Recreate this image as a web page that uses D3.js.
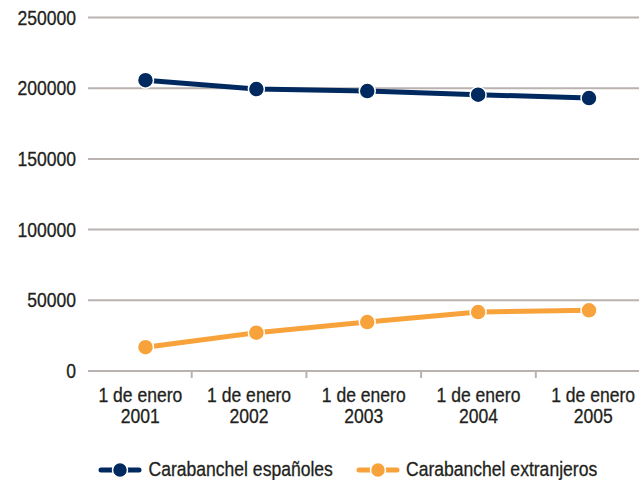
<!DOCTYPE html>
<html><head><meta charset="utf-8">
<script src="https://cdn.jsdelivr.net/npm/d3@7"></script>
<style>body{margin:0;background:#fff}svg{display:block}text{font-family:"Liberation Sans",Arial,sans-serif;fill:#231f20;stroke:#231f20;stroke-width:0.3px}</style>
</head><body><svg id="c" width="639" height="480"></svg>
<script>
const categories = ["1 de enero|2001","1 de enero|2002","1 de enero|2003","1 de enero|2004","1 de enero|2005"];
const espanoles = [205700, 199400, 198000, 195400, 193000];
const extranjeros = [16800, 27100, 34600, 41700, 42900];
const yTicks = [0, 50000, 100000, 150000, 200000, 250000];
const seriesNames = ["Carabanchel españoles", "Carabanchel extranjeros"];
const colors = ["#00295f", "#f8a23b"];

const FS = 19.5, SX = 0.9;
const svg = d3.select("#c");
const x = d3.scaleBand().domain(categories).range([77, 650.5]);
const xp = d3.scalePoint().domain(categories).range([145.5, 589]);
const y = d3.scaleLinear().domain([0, 250000]).range([371, 17.5]);

// grid
svg.append("g").selectAll("line").data(yTicks).join("line")
  .attr("x1", 88).attr("x2", 639).attr("y1", d => y(d)).attr("y2", d => y(d))
  .attr("stroke", "#bab2af").attr("stroke-width", 2);
// y labels
svg.append("g").selectAll("text").data(yTicks).join("text")
  .attr("transform", d => `translate(76,${y(d) + 7}) scale(${SX},1)`)
  .attr("text-anchor", "end").attr("font-size", FS).text(d => d);
// x ticks
svg.append("g").selectAll("line").data(categories.slice(1)).join("line")
  .attr("x1", d => x(d)).attr("x2", d => x(d)).attr("y1", 371).attr("y2", 378)
  .attr("stroke", "#bab2af").attr("stroke-width", 2);
// x labels
const xl = svg.append("g").selectAll("text").data(categories).join("text")
  .attr("text-anchor", "middle").attr("font-size", FS)
  .attr("transform", (d, i) => `translate(${x(d) + x.bandwidth()/2 + (i === 0 ? 6 : 0)},0) scale(${SX},1)`);
xl.append("tspan").attr("x", 0).attr("y", 402).text(d => d.split("|")[0]);
xl.append("tspan").attr("x", 0).attr("y", 423.5).text(d => d.split("|")[1]);

const line = d3.line().x((d, i) => xp(categories[i])).y(d => y(d));
[espanoles, extranjeros].forEach((s, k) => {
  svg.append("path").datum(s).attr("d", line).attr("fill", "none")
    .attr("stroke", colors[k]).attr("stroke-width", 5);
  svg.append("g").selectAll("circle").data(s).join("circle")
    .attr("cx", (d, i) => xp(categories[i])).attr("cy", d => y(d))
    .attr("r", 8).attr("fill", colors[k]).attr("stroke", "#fff").attr("stroke-width", 1.5);
});

// legend
const leg = [{x0: 100, tx: 148.5, name: seriesNames[0], c: colors[0]}, {x0: 358, tx: 406, name: seriesNames[1], c: colors[1]}];
leg.forEach(l => {
  const g = svg.append("g");
  g.append("line").attr("x1", l.x0 + 1).attr("x2", l.x0 + 39).attr("y1", 470).attr("y2", 470)
    .attr("stroke", l.c).attr("stroke-width", 5).attr("stroke-linecap", "round");
  g.append("circle").attr("cx", l.x0 + 20).attr("cy", 470).attr("r", 7.5).attr("fill", l.c)
    .attr("stroke", "#fff").attr("stroke-width", 1.5);
  g.append("text").attr("transform", `translate(${l.tx},476) scale(${SX},1)`)
    .attr("font-size", FS).text(l.name);
});
</script></body></html>
